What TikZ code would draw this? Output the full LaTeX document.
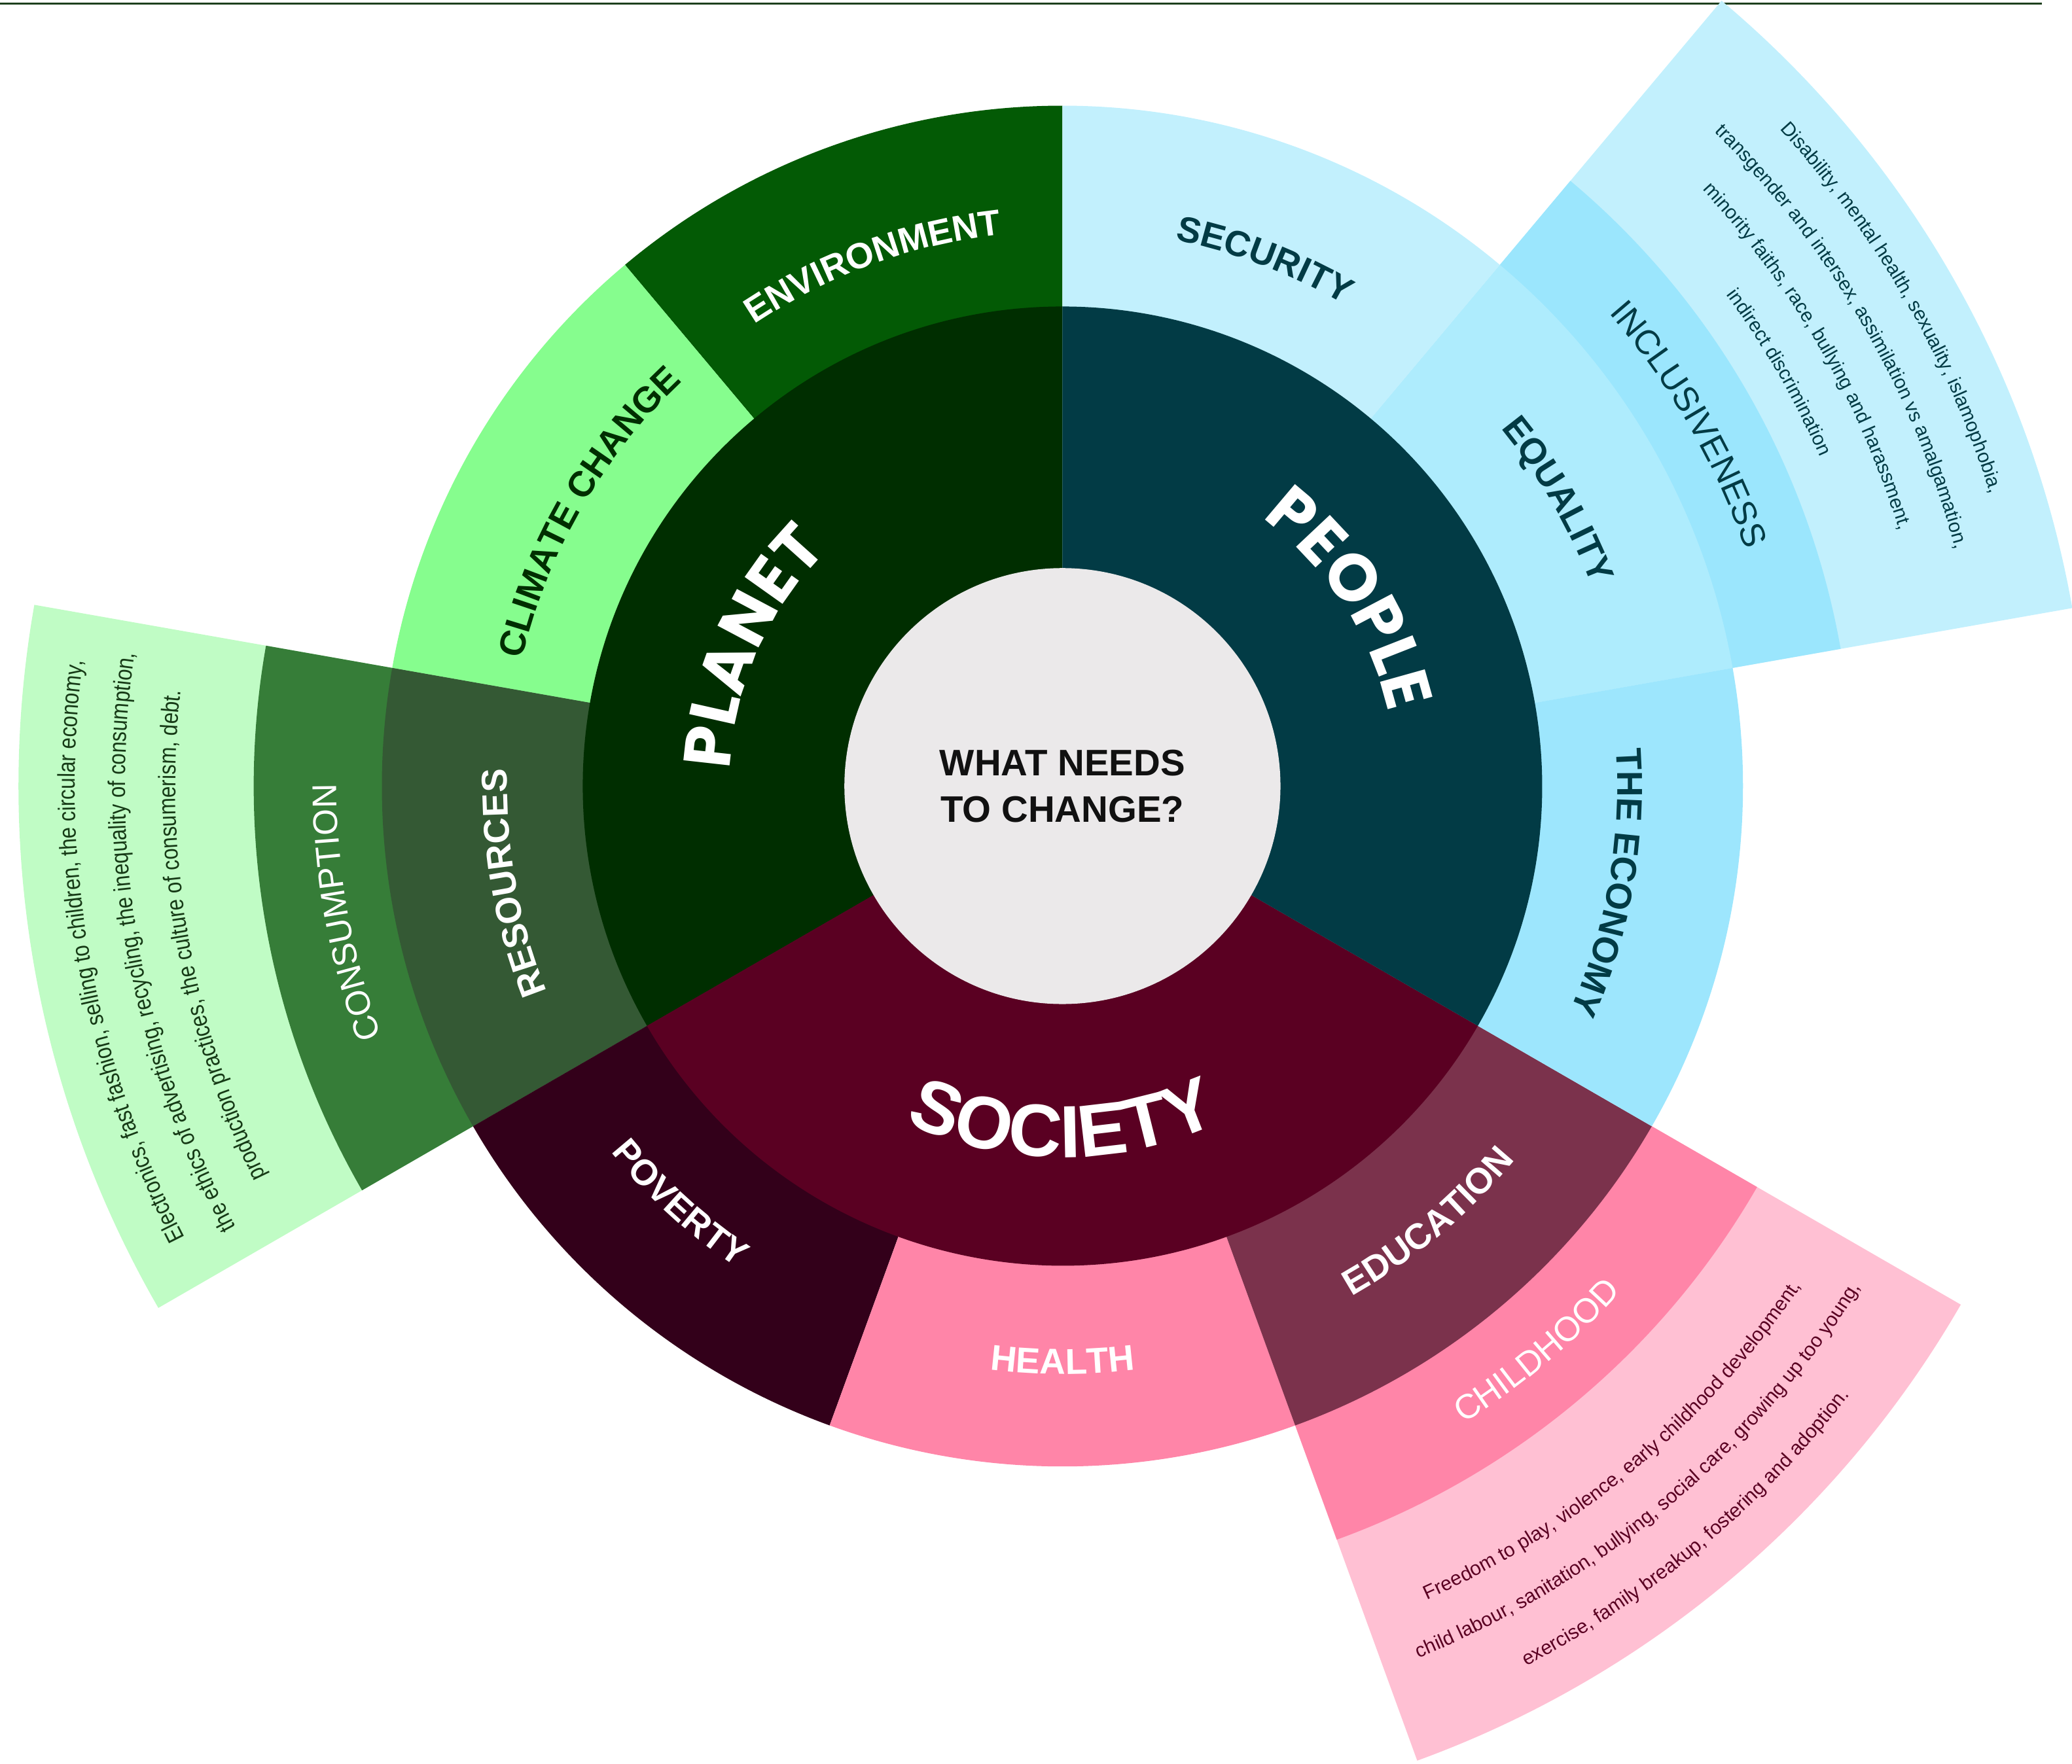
\documentclass[tikz,border=0pt]{standalone}
\usepackage{fontspec}
\setmainfont{Liberation Sans}
\newfontfamily\condfont[FakeStretch=0.85]{Liberation Sans}
\newfontfamily\geofont{Poppins}
\usetikzlibrary{decorations.text}
\definecolor{centerc}{HTML}{EBE9EA}
\definecolor{planetc}{HTML}{002E00}
\definecolor{peoplec}{HTML}{023B45}
\definecolor{societyc}{HTML}{5A0022}
\definecolor{envc}{HTML}{035A05}
\definecolor{climatec}{HTML}{86FD8E}
\definecolor{resourcesc}{HTML}{345934}
\definecolor{consumc}{HTML}{367D38}
\definecolor{consband}{HTML}{C0FCC5}
\definecolor{securityc}{HTML}{C2F0FD}
\definecolor{equalityc}{HTML}{AEECFD}
\definecolor{economyc}{HTML}{9DE6FD}
\definecolor{inclusivec}{HTML}{9BE6FD}
\definecolor{peopleband}{HTML}{C2F0FD}
\definecolor{povertyc}{HTML}{33001A}
\definecolor{healthc}{HTML}{FF85A8}
\definecolor{educationc}{HTML}{7B324C}
\definecolor{childc}{HTML}{FF85A8}
\definecolor{childband}{HTML}{FFC0D3}
\definecolor{textdark}{HTML}{111111}
\definecolor{constext}{HTML}{163A16}
\definecolor{topline}{HTML}{1E401E}
% wedge: radius, start angle, end angle, colour
\newcommand\wedgefill[4]{\fill[#4] (0,0) -- (#2:#1) arc[start angle=#2, end angle=#3, radius=#1] -- cycle;}
% clockwise text: radius, mid angle, colour, text
\newcommand\cwtext[4]{\path[decorate,decoration={text along path,text align=center,text color=#3,text={#4}}] ({#2+60}:#1) arc[start angle={#2+60}, end angle={#2-60}, radius=#1];}
% counter-clockwise text
\newcommand\ccwtext[4]{\path[decorate,decoration={text along path,text align=center,text color=#3,text={#4}}] ({#2-60}:#1) arc[start angle={#2-60}, end angle={#2+60}, radius=#1];}
\newcommand\lab{\bfseries\fontsize{15.5}{18}\selectfont}
\newcommand\geolab{\geofont\bfseries\fontsize{28.5}{32}\selectfont}
\newcommand\biglab{\bfseries\fontsize{31.9}{35}\selectfont}
\newcommand\thinlab{\fontsize{14.8}{17}\selectfont}
\newcommand\consfont{\condfont\fontsize{10.4}{12}\selectfont}
\newcommand\pplfont{\fontsize{8.4}{10}\selectfont}
\newcommand\chfont{\fontsize{8.5}{10}\selectfont}
\begin{document}
\begin{tikzpicture}[x=0.02cm,y=0.02cm]
\useasboundingbox (-804,-740) rectangle (764,595);
% top rule
\draw[topline, line width=0.8pt] (-804,592.4) -- (741,592.4);
% outer text bands
\wedgefill{790}{170}{210}{consband}
\wedgefill{776}{10}{50}{peopleband}
\wedgefill{785}{290}{330}{childband}
% fourth ring
\wedgefill{612}{170}{210}{consumc}
\wedgefill{598}{10}{50}{inclusivec}
\wedgefill{607}{290}{330}{childc}
% third ring
\wedgefill{515}{90}{130}{envc}
\wedgefill{515}{130}{170}{climatec}
\wedgefill{515}{170}{210}{resourcesc}
\wedgefill{515}{210}{250}{povertyc}
\wedgefill{515}{250}{290}{healthc}
\wedgefill{515}{290}{330}{educationc}
\wedgefill{515}{-30}{10}{economyc}
\wedgefill{515}{10}{50}{equalityc}
\wedgefill{515}{50}{90}{securityc}
% second ring
\wedgefill{363}{90}{210}{planetc}
\wedgefill{363}{210}{330}{societyc}
\wedgefill{363}{-30}{90}{peoplec}
% centre
\fill[centerc] (0,0) circle[radius=165];
\node[align=center, text=textdark, font=\bfseries\fontsize{15.9}{19.9}\selectfont] (q) at (0,0) {WHAT NEEDS\\TO CHANGE?};
% big labels
\cwtext{252}{156}{white}{|\geolab|PLANET}
\cwtext{253}{33}{white}{|\geolab|PEOPLE}
\ccwtext{281}{270}{white}{|\biglab|SOCIETY}
% third ring labels
\cwtext{420}{110}{white}{|\lab|ENVIRONMENT}
\cwtext{420}{150}{planetc}{|\lab|CLIMATE CHANGE}
\cwtext{420}{190}{white}{|\lab|RESOURCES}
\ccwtext{440}{227.5}{white}{|\lab|POVERTY}
\ccwtext{445}{270}{white}{|\lab|HEALTH}
\ccwtext{444}{310}{white}{|\lab|EDUCATION}
\cwtext{420}{350}{peoplec}{|\lab|THE ECONOMY}
\cwtext{428}{30}{peoplec}{|\lab|EQUALITY}
\cwtext{422}{69}{peoplec}{|\lab|SECURITY}
% fourth ring labels
\cwtext{549}{190}{white}{|\thinlab|CONSUMPTION}
\cwtext{547}{30}{peoplec}{|\thinlab|INCLUSIVENESS}
\ccwtext{570}{310}{white}{|\thinlab|CHILDHOOD}
% consumption text
\cwtext{747}{190}{constext}{|\consfont|Electronics, fast fashion, selling to children, the circular economy,}
\cwtext{709}{190}{constext}{|\consfont|the ethics of advertising, recycling, the inequality of consumption,}
\cwtext{671}{190}{constext}{|\consfont|production practices, the culture of consumerism, debt.}
% people text
\cwtext{736}{30}{peoplec}{|\pplfont|Disability, mental health, sexuality, islamophobia,}
\cwtext{699}{30}{peoplec}{|\pplfont|transgender and intersex, assimilation vs amalgamation,}
\cwtext{662}{30}{peoplec}{|\pplfont|minority faiths, race, bullying and harassment,}
\cwtext{625}{30}{peoplec}{|\pplfont|indirect discrimination}
% childhood text
\ccwtext{675}{310}{societyc}{|\chfont|Freedom to play, violence, early childhood development,}
\ccwtext{713}{310}{societyc}{|\chfont|child labour, sanitation, bullying, social care, growing up too young,}
\ccwtext{753}{310}{societyc}{|\chfont|exercise, family breakup, fostering and adoption.}
\end{tikzpicture}
\end{document}
